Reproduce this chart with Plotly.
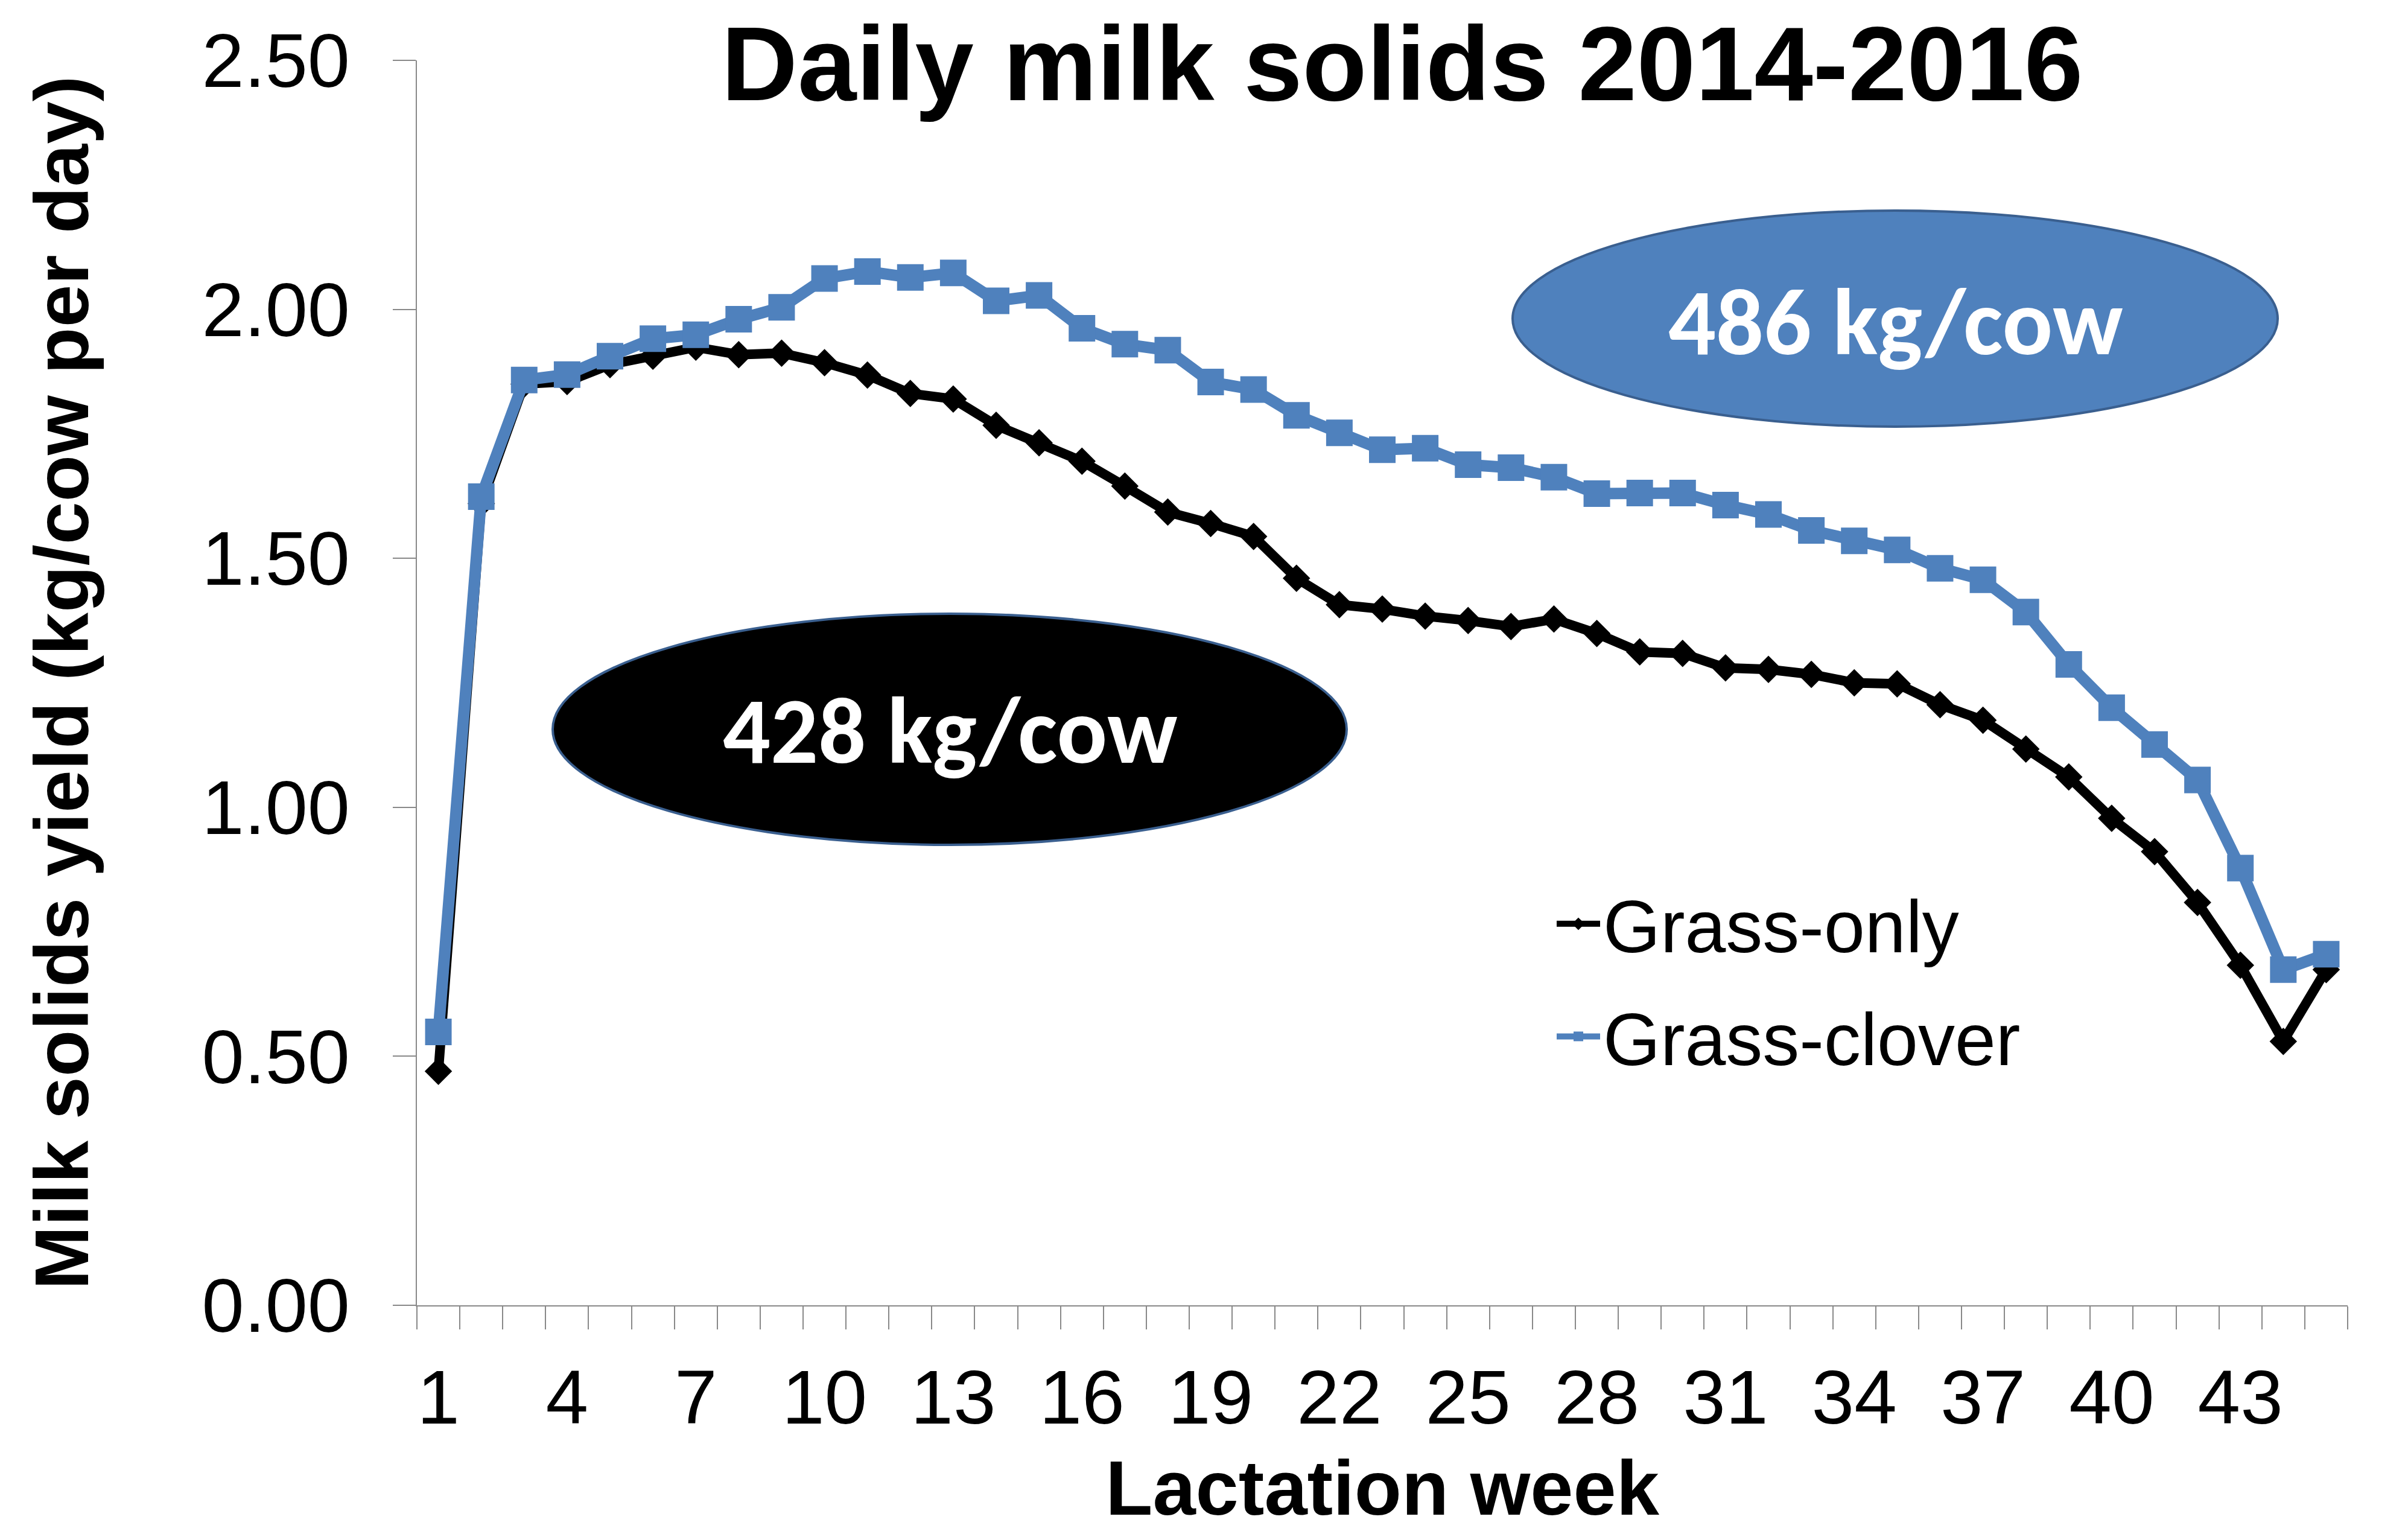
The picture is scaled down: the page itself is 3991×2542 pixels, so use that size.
import plotly.graph_objects as go

weeks = list(range(1, 46))
grass_only = [0.47, 1.61, 1.85, 1.855, 1.889, 1.906, 1.924, 1.909, 1.912, 1.893,
              1.868, 1.831, 1.820, 1.767, 1.732, 1.695, 1.645, 1.593, 1.570, 1.544,
              1.460, 1.407, 1.398, 1.384, 1.375, 1.363, 1.378, 1.349, 1.312, 1.309,
              1.280, 1.277, 1.267, 1.250, 1.248, 1.206, 1.175, 1.117, 1.061, 0.978,
              0.911, 0.809, 0.683, 0.530, 0.674]
grass_clover = [0.549, 1.624, 1.858, 1.869, 1.906, 1.941, 1.949, 1.980, 2.004, 2.062,
                2.076, 2.064, 2.073, 2.017, 2.028, 1.962, 1.930, 1.918, 1.854, 1.839,
                1.787, 1.752, 1.718, 1.721, 1.688, 1.682, 1.663, 1.630, 1.631, 1.631,
                1.607, 1.588, 1.556, 1.535, 1.517, 1.480, 1.457, 1.392, 1.287, 1.200,
                1.126, 1.055, 0.878, 0.674, 0.705]
x_tick_vals = list(range(1, 46, 3))
y_tick_vals = [0, 0.5, 1.0, 1.5, 2.0, 2.5]
series_names = ["Grass-only", "Grass-clover"]
totals = ["428 kg/cow", "486 kg/cow"]

W, H = 3991, 2542
OFF = 8  # page body margin offset
# plot area in reference pixel coordinates
RL, RR, RT, RB = 691, 3891, 100, 2163
L, R, T, B = RL - OFF, RR - OFF, RT - OFF, RB - OFF
PW, PH = R - L, B - T

def px(x):
    return (x - RL) / PW

def py(y):
    return (RB - y) / PH

BLUE = "#4f81bd"
BORDER = "#3a5f8f"
GRAY = "#898989"
FONT = "Arial, Liberation Sans, sans-serif"
BADGE_FONT = "Calibri, Carlito, Lato, sans-serif"

fig = go.Figure()
fig.add_trace(go.Scatter(
    x=weeks, y=grass_only, name=series_names[0], mode="lines+markers",
    line=dict(color="black", width=16),
    marker=dict(symbol="diamond", size=35, color="black"),
    legendgroup="a",
))
fig.add_trace(go.Scatter(
    x=weeks, y=grass_clover, name=series_names[1], mode="lines+markers",
    line=dict(color=BLUE, width=19),
    marker=dict(symbol="square", size=44, color=BLUE),
    legendgroup="b",
))

# ellipses
fig.add_shape(type="circle", xref="paper", yref="paper",
              x0=px(916), x1=px(2232), y0=py(1400), y1=py(1017),
              fillcolor="black", line=dict(color=BORDER, width=4), layer="above")
fig.add_shape(type="circle", xref="paper", yref="paper",
              x0=px(2507), x1=px(3775), y0=py(707), y1=py(349),
              fillcolor=BLUE, line=dict(color=BORDER, width=4), layer="above")

fig.add_annotation(xref="paper", yref="paper", x=px(1574), y=py(1210),
                   text="<b>%s</b>" % totals[0], showarrow=False,
                   font=dict(family=BADGE_FONT, size=156, color="white"),
                   xanchor="center", yanchor="middle")
fig.add_annotation(xref="paper", yref="paper", x=px(3141), y=py(533),
                   text="<b>%s</b>" % totals[1], showarrow=False,
                   font=dict(family=BADGE_FONT, size=156, color="white"),
                   xanchor="center", yanchor="middle")

fig.update_layout(
    width=W, height=H,
    margin=dict(l=L, r=W - R, t=T, b=H - B, autoexpand=False),
    paper_bgcolor="white", plot_bgcolor="white",
    font=dict(family=FONT, color="black"),
    title=dict(text="<b>Daily milk solids 2014-2016</b>", x=(2324 - OFF) / W, xref="container",
               xanchor="center", y=1 - (105 - OFF) / H, yref="container", yanchor="middle",
               font=dict(family=FONT, size=175, color="black")),
    showlegend=True,
    legend=dict(x=px(2575), y=py(1445), xanchor="left", yanchor="top",
                font=dict(family=FONT, size=122, color="black"),
                bgcolor="rgba(0,0,0,0)", itemwidth=72, traceorder="grouped",
                tracegroupgap=25),
    xaxis=dict(
        range=[0.5, 45.5], tickmode="array", tickvals=x_tick_vals,
        ticktext=[str(v) for v in x_tick_vals], ticks="",
        showline=True, linecolor=GRAY, linewidth=2, showgrid=False, zeroline=False,
        tickfont=dict(family=FONT, size=127, color="black"),
        ticklabelstandoff=42,
        minor=dict(tickmode="linear", tick0=0.5, dtick=1, ticks="outside",
                   ticklen=38, tickwidth=2, tickcolor=GRAY, showgrid=False),
        title=dict(text="<b>Lactation week</b>", standoff=35,
                   font=dict(family=FONT, size=128, color="black")),
        fixedrange=True,
    ),
    yaxis=dict(
        range=[0, 2.5], tickmode="array", tickvals=y_tick_vals, tickformat=".2f",
        ticks="outside", ticklen=38, tickwidth=2, tickcolor=GRAY,
        showline=True, linecolor=GRAY, linewidth=2, showgrid=False, zeroline=False,
        tickfont=dict(family=FONT, size=126, color="black"),
        ticklabelstandoff=46,
        title=dict(text="<b>Milk solids yield (kg/cow per day)</b>", standoff=145,
                   font=dict(family=FONT, size=127, color="black")),
        fixedrange=True,
    ),
)

fig.write_html("out.html")
